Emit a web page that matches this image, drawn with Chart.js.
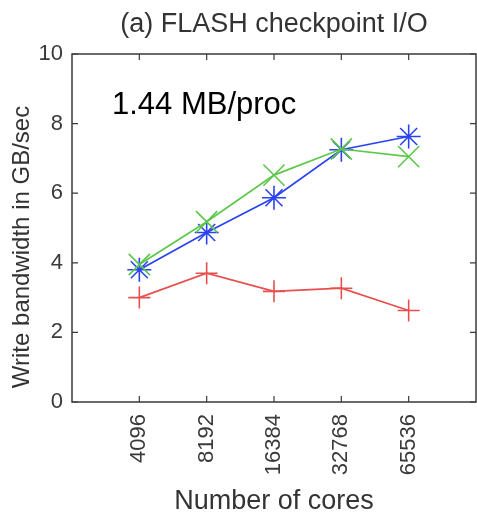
<!DOCTYPE html>
<html><head><meta charset="utf-8">
<script src="https://cdn.jsdelivr.net/npm/chart.js@4"></script>
<style>html,body{margin:0;padding:0;background:#fff;overflow:hidden}canvas{display:block}</style>
</head><body><canvas id="c" width="477" height="516" style="width:477px;height:516px"></canvas>
<script>
const categories = ['4096', '8192', '16384', '32768', '65536'];
const redSeries = [3.0, 3.7, 3.18, 3.27, 2.63];
const greenSeries = [3.95, 5.18, 6.52, 7.27, 7.05];
const blueSeries = [3.8, 4.87, 5.87, 7.25, 7.63];
const yTickValues = [0, 2, 4, 6, 8, 10];
const titleText = '(a) FLASH checkpoint I/O';
const annotationText = '1.44 MB/proc';
const xTitle = 'Number of cores';
const yTitle = 'Write bandwidth in GB/sec';

const FONT = '"Liberation Sans", Arial, Helvetica, sans-serif';
const toPts = arr => arr.map((v, i) => ({x: i + 1, y: v}));

const framePlugin = {
  id: 'frame',
  beforeLayout(chart) {
    Object.values(chart.scales).forEach(s => {
      s.getPadding = () => ({left: 0, right: 0, top: 0, bottom: 0});
    });
  },
  afterLayout(chart) {
    const x = chart.scales.x;
    const a = chart.chartArea;
    const r = chart.width - 1;
    if (a.right < r) {
      a.right = r;
      a.width = a.right - a.left;
      x.right = r;
      x.width = x.right - x.left;
      x.configure();
    }
  },
  beforeDatasetsDraw(chart) {
    const {ctx, chartArea: a, scales: {x, y}} = chart;
    ctx.save();
    ctx.strokeStyle = '#3a3a3a';
    ctx.lineWidth = 1.5;
    ctx.strokeRect(a.left, a.top, a.right - a.left, a.bottom - a.top);
    ctx.lineWidth = 1.2;
    const L = 6;
    ctx.beginPath();
    x.ticks.forEach(t => {
      const px = x.getPixelForValue(t.value);
      ctx.moveTo(px, a.bottom); ctx.lineTo(px, a.bottom - L);
      ctx.moveTo(px, a.top); ctx.lineTo(px, a.top + L);
    });
    y.ticks.forEach(t => {
      const py = y.getPixelForValue(t.value);
      ctx.moveTo(a.left, py); ctx.lineTo(a.left + L, py);
      ctx.moveTo(a.right, py); ctx.lineTo(a.right - L, py);
    });
    ctx.stroke();
    // title centred over the plot area
    ctx.fillStyle = '#333';
    ctx.font = '27px ' + FONT;
    ctx.textAlign = 'center';
    ctx.textBaseline = 'middle';
    ctx.fillText(titleText, (a.left + a.right) / 2, 25);
    // y-axis title
    ctx.font = '24px ' + FONT;
    ctx.translate(22, (a.top + a.bottom) / 2 + 19);
    ctx.rotate(-Math.PI / 2);
    ctx.fillText(yTitle, 0, 0);
    ctx.restore();
  },
  afterDatasetsDraw(chart) {
    const {ctx, chartArea: a} = chart;
    ctx.save();
    ctx.fillStyle = '#000';
    ctx.font = '31px ' + FONT;
    ctx.textBaseline = 'alphabetic';
    ctx.textAlign = 'left';
    ctx.fillText(annotationText, a.left + 40, a.top + 60);
    ctx.restore();
  }
};

new Chart(document.getElementById('c'), {
  type: 'line',
  data: {
    datasets: [
      {data: toPts(redSeries), borderColor: '#e8504f', backgroundColor: '#e8504f', pointStyle: 'cross', pointRadius: 11, pointBorderWidth: 1.6, borderWidth: 1.7},
      {data: toPts(greenSeries), borderColor: '#5cc84a', backgroundColor: '#5cc84a', pointStyle: 'crossRot', pointRadius: 15, pointBorderWidth: 1.6, borderWidth: 1.7},
      {data: toPts(blueSeries), borderColor: '#2a43f0', backgroundColor: '#2a43f0', pointStyle: 'star', pointRadius: 12, pointBorderWidth: 1.6, borderWidth: 1.7}
    ]
  },
  options: {
    responsive: false,
    devicePixelRatio: 1,
    animation: false,
    layout: {padding: {left: 0, right: 1, top: 54, bottom: 0}},
    plugins: {
      legend: {display: false},
      tooltip: {enabled: false},
      title: {display: false}
    },
    scales: {
      x: {
        type: 'linear', min: 0, max: 6,
        afterBuildTicks: s => { s.ticks = categories.map((c, i) => ({value: i + 1})); },
        afterFit: s => { s.height = 114; },
        grid: {display: false, drawTicks: false},
        border: {display: false},
        ticks: {
          color: '#3a3a3a', font: {family: FONT, size: 22}, padding: 12,
          minRotation: 90, maxRotation: 90, autoSkip: false,
          callback: v => categories[v - 1]
        },
        title: {display: true, text: xTitle, color: '#333', font: {family: FONT, size: 27}, padding: {top: 0, bottom: -2}}
      },
      y: {
        min: 0, max: 10,
        afterBuildTicks: s => { s.ticks = yTickValues.map(v => ({value: v})); },
        afterFit: s => { s.width = 72; },
        grid: {display: false, drawTicks: false},
        border: {display: false},
        ticks: {color: '#3a3a3a', font: {family: FONT, size: 22}, padding: 9},
        title: {display: false}
      }
    }
  },
  plugins: [framePlugin]
});
</script>
</body></html>
